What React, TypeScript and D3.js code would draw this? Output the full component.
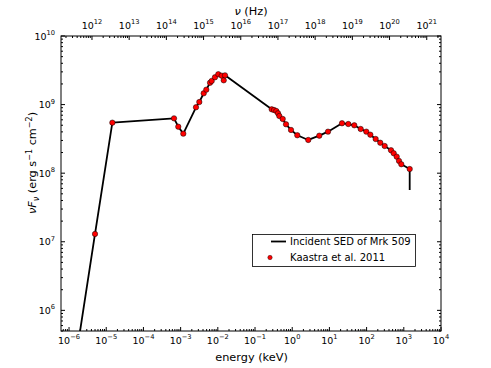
import React from "react";
import * as d3 from "d3";

// Incident SED line (energy keV, nuFnu)
const sedEnergy = [6.08e-7, 4.99e-6, 1.46e-5, 6.64e-4, 8.65e-4, 1.18e-3, 2.59e-3, 3.18e-3, 4.17e-3, 4.9e-3, 6.17e-3, 6.84e-3, 8.39e-3, 1.03e-2, 1.27e-2, 1.56e-2, 0.281, 0.324, 0.373, 0.415, 0.45, 0.555, 0.681, 0.927, 1.37, 2.7, 5.35, 9.16, 21.8, 32.2, 46.7, 69.3, 98.2, 126, 175, 233, 306, 453, 535, 644, 743, 857, 1440, 1440];
const sedFlux = [7.8e3, 1.3e7, 5.45e8, 6.3e8, 4.76e8, 3.77e8, 9.14e8, 1.09e9, 1.46e9, 1.65e9, 2.08e9, 2.21e9, 2.5e9, 2.77e9, 2.64e9, 2.67e9, 8.53e8, 8.34e8, 8.07e8, 7.47e8, 6.82e8, 6.17e8, 5.16e8, 4.27e8, 3.57e8, 3.05e8, 3.52e8, 4.03e8, 5.34e8, 5.21e8, 4.99e8, 4.41e8, 4.03e8, 3.64e8, 3.15e8, 2.78e8, 2.49e8, 2.16e8, 1.95e8, 1.74e8, 1.51e8, 1.35e8, 1.15e8, 5.7e7];

// Kaastra et al. 2011 points
const kEnergy = [4.99e-6, 1.46e-5, 6.64e-4, 8.65e-4, 1.18e-3, 2.59e-3, 3.18e-3, 4.17e-3, 4.9e-3, 6.17e-3, 6.84e-3, 8.39e-3, 1.03e-2, 1.27e-2, 1.44e-2, 1.56e-2, 0.281, 0.324, 0.373, 0.415, 0.45, 0.555, 0.681, 0.927, 1.37, 2.7, 5.35, 9.16, 21.8, 32.2, 46.7, 69.3, 98.2, 126, 175, 233, 306, 453, 535, 644, 743, 857, 1440];
const kFlux = [1.3e7, 5.45e8, 6.3e8, 4.76e8, 3.77e8, 9.14e8, 1.09e9, 1.46e9, 1.65e9, 2.08e9, 2.21e9, 2.5e9, 2.77e9, 2.64e9, 2.26e9, 2.67e9, 8.53e8, 8.34e8, 8.07e8, 7.47e8, 6.82e8, 6.17e8, 5.16e8, 4.27e8, 3.57e8, 3.05e8, 3.52e8, 4.03e8, 5.34e8, 5.21e8, 4.99e8, 4.41e8, 4.03e8, 3.64e8, 3.15e8, 2.78e8, 2.49e8, 2.16e8, 1.95e8, 1.74e8, 1.51e8, 1.35e8, 1.15e8];

const xTickExps = [-6, -5, -4, -3, -2, -1, 0, 1, 2, 3, 4];
const yTickExps = [6, 7, 8, 9, 10];
const nuTickExps = [12, 13, 14, 15, 16, 17, 18, 19, 20, 21];

const KEV_TO_HZ = 2.417989e17;
const X_DOMAIN = [6.08e-7, 1e4];
const Y_DOMAIN = [5e5, 1e10];

const L = 61, R = 441, T = 36, B = 331;
const FONT = "DejaVu Sans, sans-serif";

function minorTicks(lo: number, hi: number) {
  const out: number[] = [];
  const d0 = Math.floor(Math.log10(lo));
  const d1 = Math.ceil(Math.log10(hi));
  for (let d = d0; d <= d1; d++) {
    for (let k = 2; k <= 9; k++) {
      const v = k * Math.pow(10, d);
      if (v >= lo && v <= hi) out.push(v);
    }
  }
  return out;
}

function fmtExp(e: number) {
  return e < 0 ? "\u2212" + Math.abs(e) : String(e);
}

export default function App() {
  const x = d3.scaleLog().domain(X_DOMAIN).range([L, R]);
  const y = d3.scaleLog().domain(Y_DOMAIN).range([B, T]);
  const nu = d3.scaleLog().domain([X_DOMAIN[0] * KEV_TO_HZ, X_DOMAIN[1] * KEV_TO_HZ]).range([L, R]);

  const line = d3.line<number>().x((i) => x(sedEnergy[i])).y((i) => y(sedFlux[i]));
  const pathD = line(sedEnergy.map((_, i) => i)) || "";

  const xMinor = minorTicks(X_DOMAIN[0], X_DOMAIN[1]);
  const yMinor = minorTicks(Y_DOMAIN[0], Y_DOMAIN[1]);
  const nuMinor = minorTicks(nu.domain()[0], nu.domain()[1]);

  const MAJ = 4, MIN = 2;
  const tickStyle = { stroke: "#000", strokeWidth: 1 };

  return (
    <svg width={491} height={368} style={{ position: "absolute", left: 0, top: 0 }} fontFamily={FONT}>
      <rect x={0} y={0} width={491} height={368} fill="#fff" />
      <defs>
        <clipPath id="plotclip">
          <rect x={L} y={T} width={R - L} height={B - T} />
        </clipPath>
      </defs>

      {/* data */}
      <g clipPath="url(#plotclip)">
        <path d={pathD} fill="none" stroke="#000" strokeWidth={1.8} strokeLinejoin="round" />
        {kEnergy.map((e, i) => (
          <circle key={i} cx={x(e)} cy={y(kFlux[i])} r={2.7} fill="#ff0000" stroke="#000" strokeWidth={0.5} />
        ))}
      </g>

      {/* frame */}
      <rect x={L} y={T} width={R - L} height={B - T} fill="none" stroke="#000" strokeWidth={1} />

      {/* bottom ticks */}
      {xTickExps.map((e) => {
        const px = x(Math.pow(10, e));
        return <line key={"xb" + e} x1={px} x2={px} y1={B} y2={B - MAJ} {...tickStyle} />;
      })}
      {xMinor.map((v, i) => (
        <line key={"xbm" + i} x1={x(v)} x2={x(v)} y1={B} y2={B - MIN} {...tickStyle} />
      ))}
      {/* top nu ticks */}
      {nuTickExps.map((e) => {
        const px = nu(Math.pow(10, e));
        return <line key={"nt" + e} x1={px} x2={px} y1={T} y2={T + MAJ} {...tickStyle} />;
      })}
      {nuMinor.map((v, i) => (
        <line key={"ntm" + i} x1={nu(v)} x2={nu(v)} y1={T} y2={T + MIN} {...tickStyle} />
      ))}
      {/* left/right ticks */}
      {yTickExps.map((e) => {
        const py = y(Math.pow(10, e));
        return (
          <g key={"y" + e}>
            <line x1={L} x2={L + MAJ} y1={py} y2={py} {...tickStyle} />
            <line x1={R} x2={R - MAJ} y1={py} y2={py} {...tickStyle} />
          </g>
        );
      })}
      {yMinor.map((v, i) => (
        <g key={"ym" + i}>
          <line x1={L} x2={L + MIN} y1={y(v)} y2={y(v)} {...tickStyle} />
          <line x1={R} x2={R - MIN} y1={y(v)} y2={y(v)} {...tickStyle} />
        </g>
      ))}

      {/* bottom tick labels */}
      {xTickExps.map((e) => (
        <text key={"xl" + e} x={x(Math.pow(10, e))} y={343.5} textAnchor="middle" fontSize={9.5} fill="#000">
          <tspan>10</tspan>
          <tspan dy={-4.5} fontSize={6.7}>{fmtExp(e)}</tspan>
        </text>
      ))}
      {/* top tick labels */}
      {nuTickExps.map((e) => (
        <text key={"nl" + e} x={nu(Math.pow(10, e))} y={28.5} textAnchor="middle" fontSize={9.5} fill="#000">
          <tspan>10</tspan>
          <tspan dy={-4.5} fontSize={6.7}>{fmtExp(e)}</tspan>
        </text>
      ))}
      {/* left tick labels */}
      {yTickExps.map((e) => (
        <text key={"yl" + e} x={55} y={y(Math.pow(10, e)) + 3.5} textAnchor="end" fontSize={9.5} fill="#000">
          <tspan>10</tspan>
          <tspan dy={-4.5} fontSize={6.7}>{fmtExp(e)}</tspan>
        </text>
      ))}

      {/* axis labels */}
      <text x={251.5} y={361} textAnchor="middle" fontSize={11.3} fill="#000">energy (keV)</text>
      <text x={251} y={15} textAnchor="middle" fontSize={11.3} fill="#000">
        <tspan fontStyle="italic">ν</tspan>
        <tspan> (Hz)</tspan>
      </text>
      <text transform="translate(36,163) rotate(-90)" textAnchor="middle" fontSize={11.3} fill="#000">
        <tspan fontStyle="italic">νF</tspan>
        <tspan fontStyle="italic" fontSize={8} dy={2.5}>ν</tspan>
        <tspan dy={-2.5}> (erg s</tspan>
        <tspan fontSize={8} dy={-4.5}>−1</tspan>
        <tspan dy={4.5}> cm</tspan>
        <tspan fontSize={8} dy={-4.5}>−2</tspan>
        <tspan dy={4.5}>)</tspan>
      </text>

      {/* legend */}
      <rect x={252.5} y={234.5} width={163} height={32} fill="#fff" stroke="#000" strokeWidth={0.8} />
      <line x1={271} x2={286} y1={241.5} y2={241.5} stroke="#000" strokeWidth={1.8} />
      <text x={290} y={245} fontSize={10} fill="#000">Incident SED of Mrk 509</text>
      <circle cx={270} cy={257.5} r={2.2} fill="#ff0000" stroke="#000" strokeWidth={0.4} />
      <text x={290} y={261} fontSize={10} fill="#000">Kaastra et al. 2011</text>
    </svg>
  );
}
